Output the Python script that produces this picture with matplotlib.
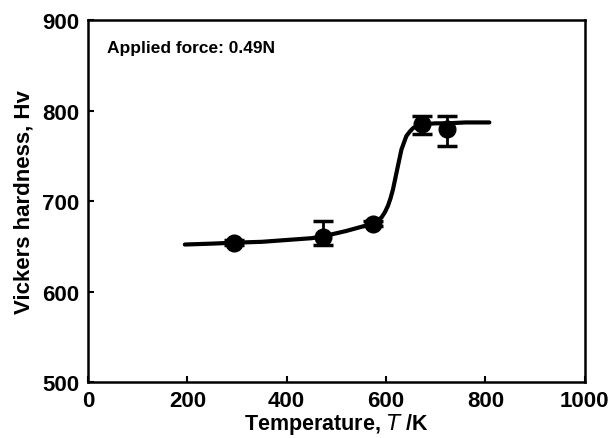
import matplotlib.pyplot as plt
import numpy as np

plt.rcParams['font.family'] = ['Liberation Sans', 'DejaVu Sans']

# measured points
temp = [293, 473, 573, 673, 723]
hv = [654, 660, 675, 785, 780]
err_lo = [3, 8, 3, 11, 19]
err_hi = [3, 18, 3, 9, 14]

# guide curve
curve_t = [195, 250, 293, 350, 400, 450, 473, 520, 573, 582, 591, 598, 604,
           609, 614, 619, 624, 631, 641, 648, 655, 663, 673, 700, 723, 760, 808]
curve_hv = [652, 653, 654, 655, 657, 659, 661, 667, 675, 678, 682, 688, 695,
            703, 713, 726, 739, 757, 772, 777, 781, 783, 785, 786, 786, 787, 787]

fig = plt.figure(figsize=(6.11, 4.39), dpi=100)
ax = fig.add_axes([0.144, 0.1276, 0.813, 0.824])

ax.plot(curve_t, curve_hv, color='black', lw=3, solid_capstyle='round',
        solid_joinstyle='round', zorder=2)
ax.errorbar(temp, hv, yerr=[err_lo, err_hi], fmt='o', color='black',
            ms=12, elinewidth=2, capsize=7, capthick=2.5, zorder=3)

ax.set_xlim(0, 1000)
ax.set_ylim(500, 900)
ax.set_xticks([0, 200, 400, 600, 800, 1000])
ax.set_yticks([500, 600, 700, 800, 900])
ax.tick_params(direction='in', length=4, width=1.5, labelsize=16)
ax.tick_params(axis='x', pad=6)
ax.tick_params(axis='y', pad=6)
for lab in ax.get_xticklabels() + ax.get_yticklabels():
    lab.set_fontweight('bold')
for sp in ax.spines.values():
    sp.set_linewidth(1.8)

ax.set_xlabel('Temperature, $\\mathbf{\\mathit{T}}$ /K', fontsize=15.5,
              fontweight='bold', labelpad=0)
ax.set_ylabel('Vickers hardness, Hv', fontsize=16, fontweight='bold', labelpad=6)
ax.text(0.038, 0.925, 'Applied force: 0.49N', transform=ax.transAxes,
        fontsize=12.5, fontweight='bold', va='center')

fig.savefig('out.png', dpi=100)
